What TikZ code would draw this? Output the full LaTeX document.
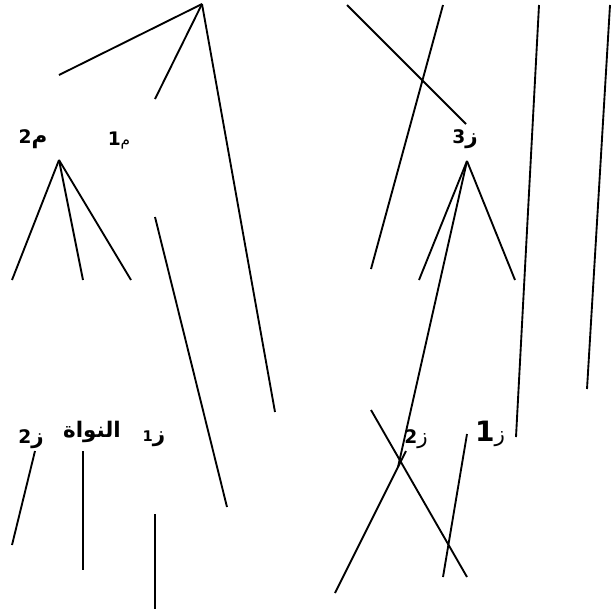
\documentclass[tikz,border=0pt]{standalone}
\usepackage{fontspec}
\setmainfont{DejaVu Sans}
\newfontfamily\arabicfont[Script=Arabic,Scale=1.15]{DejaVu Sans}
\TeXXeTstate=1
\usepackage{tikz}

\begin{document}
\begin{tikzpicture}[x=0.75pt,y=-0.75pt,line width=1.4pt,
  lbl/.style={inner sep=0pt,font=\fontsize{14}{16}\bfseries\selectfont}]
  \useasboundingbox (0,0) rectangle (613,612);
  % left part
  \coordinate (topL) at (202,4);
  \coordinate (l1) at (59,75);
  \coordinate (l2) at (155,99);
  \coordinate (l3) at (275,412);
  \coordinate (m2top) at (59,160);
  \coordinate (m2a) at (12,280);
  \coordinate (m2b) at (83,280);
  \coordinate (m2c) at (131,280);
  \coordinate (s1a) at (155,217);
  \coordinate (s1b) at (227,507);
  \coordinate (z2a) at (35,451);
  \coordinate (z2b) at (12,545);
  \coordinate (nva) at (83,451);
  \coordinate (nvb) at (83,570);
  \coordinate (z1a) at (155,514);
  \coordinate (z1b) at (155,609);
  % right part
  \coordinate (r1a) at (347,5);
  \coordinate (r1b) at (466,124);
  \coordinate (r2a) at (443,5);
  \coordinate (r2b) at (371,269);
  \coordinate (top3) at (467,161);
  \coordinate (r3a) at (419,280);
  \coordinate (r3b) at (515,280);
  \coordinate (r3c) at (398,467);
  \coordinate (r4a) at (539,5);
  \coordinate (r4b) at (516,437);
  \coordinate (r5a) at (610,5);
  \coordinate (r5b) at (587,389);
  \coordinate (x1a) at (371,410);
  \coordinate (x1b) at (467,577);
  \coordinate (x2a) at (406,451);
  \coordinate (x2b) at (335,593);
  \coordinate (x3a) at (467,434);
  \coordinate (x3b) at (443,577);
  \foreach \p/\q in {topL/l1,topL/l2,topL/l3,m2top/m2a,m2top/m2b,m2top/m2c,s1a/s1b,
    z2a/z2b,nva/nvb,z1a/z1b,r1a/r1b,r2a/r2b,top3/r3a,top3/r3b,top3/r3c,r4a/r4b,
    r5a/r5b,x1a/x1b,x2a/x2b,x3a/x3b}{\draw (\p) -- (\q);}
  % labels
  \node[lbl] (m2) at (33,139) {2\arabicfont م};
  \node[lbl] (m1) at (119,141) {1{\fontsize{10}{12}\mdseries\arabicfont م}};
  \node[lbl] (z2L) at (31,439) {2\arabicfont ز};
  \node[lbl] (nucleus) at (92,432) {\arabicfont\beginR النواة\endR};
  \node[lbl] (z1L) at (154,439) {{\fontsize{11}{12}\selectfont 1}\arabicfont ز};
  \node[lbl] (z3) at (465,139) {3\arabicfont ز};
  \node[lbl] (z2R) at (416,439) {2{\mdseries\arabicfont ز}};
  \node[lbl] (z1R) at (490,434) {{\fontsize{21}{22}\selectfont 1}{\mdseries\arabicfont ز}};
\end{tikzpicture}
\end{document}
